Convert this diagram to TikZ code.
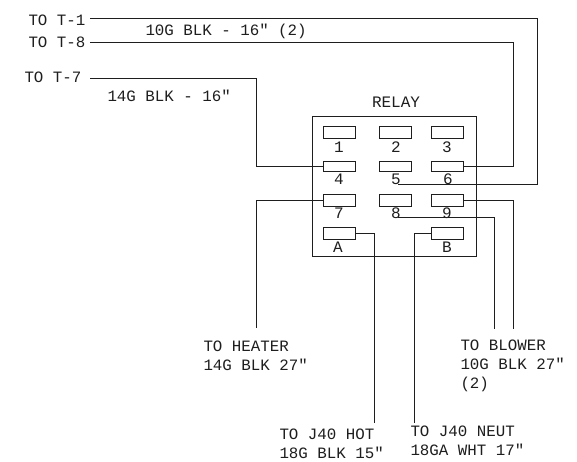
\documentclass[tikz,border=0pt]{standalone}
\usepackage{fontspec}
\setmonofont{Liberation Mono}
\tikzstyle{every path}=[line width=1pt, color=wire]
\tikzstyle{terminal} = [draw, rectangle, minimum width=32pt, minimum height=12pt, inner sep=0pt]
\tikzstyle{pin} = [inner sep=0pt, text=wire, font=\ttfamily\fontsize{16}{18}\selectfont]
\tikzstyle{callout} = [anchor=west, align=left, inner sep=0pt, text=wire, font=\ttfamily\fontsize{15.8}{19}\selectfont]
\definecolor{wire}{RGB}{30,30,30}

\begin{document}
\begin{tikzpicture}[x=1pt, y=-1pt]
            \useasboundingbox (0, 0) rectangle (577, 462);
            \fill[white] (0, 0) rectangle (577, 462);

            % relay body
            \node[draw, rectangle, minimum width=164pt, minimum height=140pt, inner sep=0pt] (relay) at (394.5, 186.5) {};
            \node[pin] (relayname) at (396, 102) {RELAY};

            \node[terminal] (t1) at (339.5, 132.5) {};
            \node[terminal] (t2) at (395.5, 132.5) {};
            \node[terminal] (t3) at (447.5, 132.5) {};
            \node[terminal, minimum height=10pt] (t4) at (339.5, 166.5) {};
            \node[terminal, minimum height=10pt] (t5) at (395.5, 166.5) {};
            \node[terminal, minimum height=10pt] (t6) at (447.5, 166.5) {};
            \node[terminal] (t7) at (339.5, 200.5) {};
            \node[terminal] (t8) at (395.5, 200.5) {};
            \node[terminal] (t9) at (447.5, 200.5) {};
            \node[terminal] (tA) at (339.5, 233.5) {};
            \node[terminal] (tB) at (447.5, 233.5) {};

            \node[pin] (n1) at (339, 147) {1};
            \node[pin] (n2) at (396, 147) {2};
            \node[pin] (n3) at (447, 147) {3};
            \node[pin] (n4) at (339, 179) {4};
            \node[pin] (n5) at (396, 179) {5};
            \node[pin] (n6) at (448, 179) {6};
            \node[pin] (n7) at (339, 213) {7};
            \node[pin] (n8) at (396, 213) {8};
            \node[pin] (n9) at (447, 213) {9};
            \node[pin] (nA) at (338, 247) {A};
            \node[pin] (nB) at (447, 247) {B};

            % wire labels
            \node[callout] (toTone) at (28, 20) {TO T-1};
            \node[callout] (toTeight) at (28, 42) {TO T-8};
            \node[callout] (toTseven) at (24, 77) {TO T-7};
            \node[callout] (gaugeTop) at (145, 31) {10G BLK - 16" (2)};
            \node[callout] (gaugeMid) at (107, 96) {14G BLK - 16"};
            \node[callout] (toHeater) at (203, 356) {TO HEATER\\14G BLK 27"};
            \node[callout] (toHot) at (279, 444) {TO J40 HOT\\18G BLK 15"};
            \node[callout] (toNeut) at (410, 441) {TO J40 NEUT\\18GA WHT 17"};
            \node[callout] (toBlower) at (460, 366) {TO BLOWER\\10G BLK 27"\\(2)};

            % wire corners and free ends
            \coordinate (a1) at (537.5, 18.5);
            \coordinate (a2) at (537.5, 184.5);
            \coordinate (a3) at (397.5, 184.5);
            \coordinate (b1) at (513.5, 42.5);
            \coordinate (b2) at (513.5, 166.5);
            \coordinate (c1) at (256.5, 78.5);
            \coordinate (c2) at (256.5, 166.5);
            \coordinate (d1) at (256.5, 200.5);
            \coordinate (d2) at (256.5, 328);
            \coordinate (e1) at (513.5, 200.5);
            \coordinate (e2) at (513.5, 329);
            \coordinate (f1) at (397.5, 217.5);
            \coordinate (f2) at (494.5, 217.5);
            \coordinate (f3) at (494.5, 329);
            \coordinate (g1) at (374.5, 233.5);
            \coordinate (g2) at (374.5, 423);
            \coordinate (h1) at (414.5, 233.5);
            \coordinate (h2) at (414.5, 423);
            \coordinate (s1) at (90, 18.5);
            \coordinate (s2) at (90, 42.5);
            \coordinate (s3) at (90, 78.5);

            \draw (s1) -- (a1) -- (a2) -- (a3);
            \draw (s2) -- (b1) -- (b2) -- (t6.east);
            \draw (s3) -- (c1) -- (c2) -- (t4.west);
            \draw (t7.west) -- (d1) -- (d2);
            \draw (t9.east) -- (e1) -- (e2);
            \draw (f1) -- (f2) -- (f3);
            \draw (tA.east) -- (g1) -- (g2);
            \draw (tB.west) -- (h1) -- (h2);
        \end{tikzpicture}
\end{document}
